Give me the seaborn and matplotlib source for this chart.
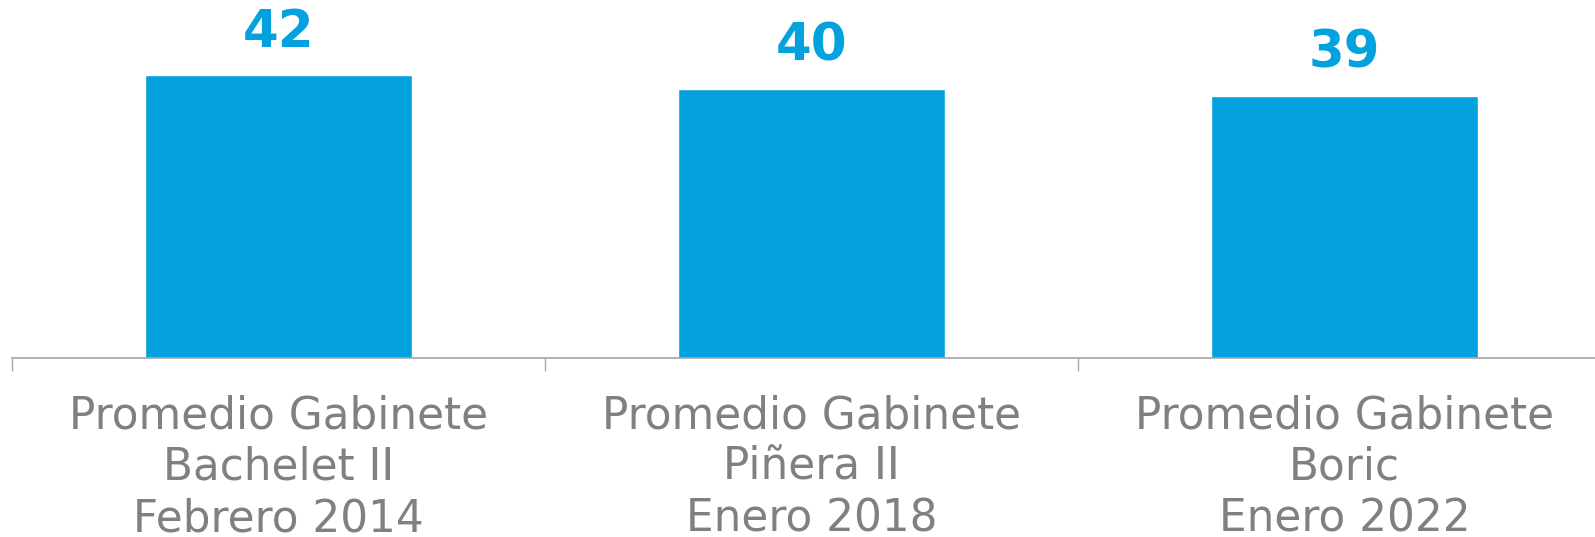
import matplotlib
matplotlib.use("Agg")
import matplotlib.pyplot as plt
import seaborn as sns
import pandas as pd
from matplotlib.ticker import FixedLocator

# data
categories = [
    "Promedio Gabinete\nBachelet II\nFebrero 2014",
    "Promedio Gabinete\nPiñera II\nEnero 2018",
    "Promedio Gabinete\nBoric\nEnero 2022",
]
values = [42, 40, 39]

sns.set_theme(style="white")
plt.rcParams['font.family'] = ['DejaVu Sans']

blue = "#03A2DF"
grey_text = "#808080"
grey_line = "#A6A6A6"

df = pd.DataFrame({"cat": categories, "val": values})

fig = plt.figure(figsize=(15.95, 5.37), dpi=100)
ax = fig.add_axes([12.2 / 1595, 1 / 3, 1 - 12.2 / 1595, 2 / 3])

sns.barplot(data=df, x="cat", y="val", color=blue, width=0.5, saturation=1, ax=ax)

for p, v in zip(ax.patches, values):
    ax.annotate(f"{v}", (p.get_x() + p.get_width() / 2, p.get_height()),
                xytext=(0, 20.5), textcoords="offset points",
                ha="center", va="baseline", color=blue,
                fontsize=37, fontweight="bold")

ax.set_xlim(-0.5, 2.47)
ax.set_ylim(0, 53.2)

for s in ["top", "right", "left"]:
    ax.spines[s].set_visible(False)
ax.spines["bottom"].set_color(grey_line)
ax.spines["bottom"].set_linewidth(1.2)

ax.set_yticks([])
ax.set_xlabel("")
ax.set_ylabel("")

ax.xaxis.set_minor_locator(FixedLocator([-0.5, 0.5, 1.5]))
ax.tick_params(axis="x", which="minor", length=9.4, width=1, color=grey_line, bottom=True)
ax.tick_params(axis="x", which="major", length=0, pad=26, labelsize=31.5, labelcolor=grey_text)
for t in ax.get_xticklabels():
    t.set_linespacing(1.25)

fig.savefig("out.png", dpi=100)
plt.close(fig)
